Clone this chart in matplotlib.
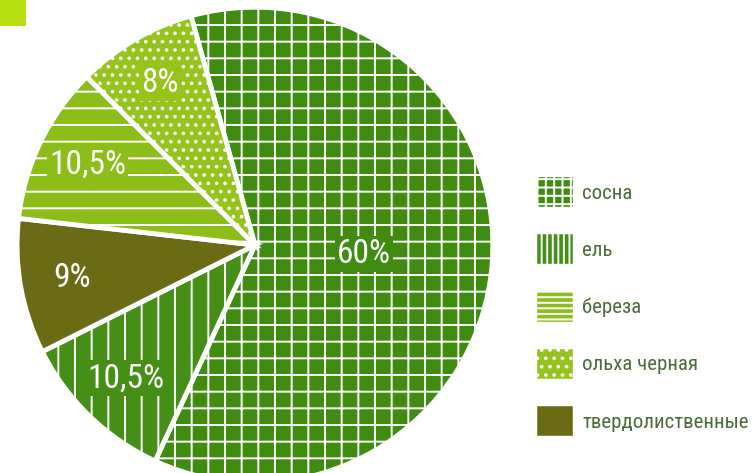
import numpy as np
import matplotlib.pyplot as plt
from matplotlib.patches import Rectangle

# данные
species = ['сосна', 'ель', 'твердолиственные', 'береза', 'ольха черная']
shares = [60, 10.5, 9, 10.5, 8]
pct_labels = ['60%', '10,5%', '9%', '10,5%', '8%']
colors = ['#3f8c10', '#468f16', '#6b6b16', '#8cbd18', '#97c41c']
hatches = ['+', '|', None, '-', '..']
legend_hatches = ['++', '|||', None, '---', '..']
legend_order = [0, 1, 3, 4, 2]
label_dist = [0.46, 0.78, 0.78, 0.78, 0.79]

plt.rcParams['font.family'] = ['Roboto Condensed', 'Roboto', 'DejaVu Sans']
plt.rcParams['hatch.linewidth'] = 1.4

fig = plt.figure(figsize=(7.53, 4.73), dpi=100)
ax = fig.add_axes([0.0226, -0.0211, 0.632, 1.006])

wedges, _ = ax.pie(shares, colors=colors, startangle=105.6, counterclock=False,
                   radius=1, wedgeprops=dict(edgecolor='white', linewidth=3.5))
for w, h in zip(wedges, hatches):
    if h:
        w.set_hatch(h)

ax.set_xlim(-1, 1)
ax.set_ylim(-1, 1)
ax.set_aspect('equal')
ax.axis('off')

# подписи процентов
for w, txt, d, c in zip(wedges, pct_labels, label_dist, colors):
    ang = np.deg2rad((w.theta1 + w.theta2) / 2)
    ax.text(d * np.cos(ang), d * np.sin(ang), txt, color='white', fontsize=24,
            ha='center', va='center',
            bbox=dict(facecolor=c, edgecolor='none', pad=1.5))

# легенда (отдельные маркеры с мелкой штриховкой)
handles = []
for i in legend_order:
    handles.append(Rectangle((0, 0), 1, 1, facecolor=colors[i], edgecolor='white',
                             linewidth=0.3, hatch=legend_hatches[i]))
fig.legend(handles, [species[i] for i in legend_order], loc='upper left',
           bbox_to_anchor=(537 / 753, 1 - 177 / 473),
           frameon=False, fontsize=15, handlelength=1.73, handleheight=1.85,
           labelspacing=1.3, handletextpad=0.45, borderaxespad=0, borderpad=0,
           labelcolor='#4d6b3a')

# маленький салатовый квадрат в углу
fig.patches.append(Rectangle((0, 1 - 26 / 473), 26 / 753, 26 / 473,
                             transform=fig.transFigure, facecolor='#b8e010',
                             edgecolor='none'))

fig.savefig('out.png', dpi=100)
